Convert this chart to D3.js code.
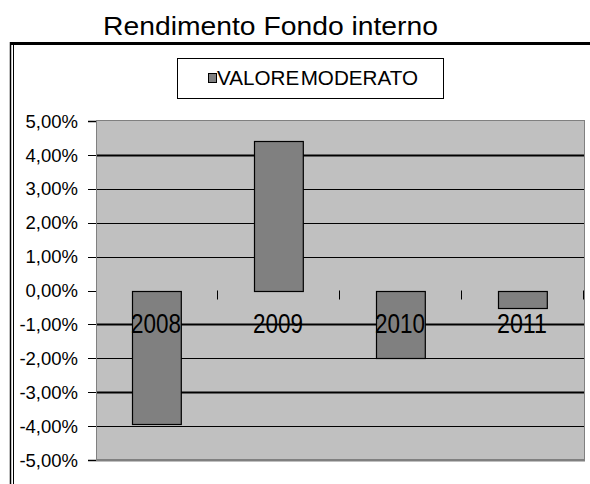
<!DOCTYPE html>
<html>
<head>
<meta charset="utf-8">
<script src="https://cdn.jsdelivr.net/npm/d3@7"></script>
<style>
  html, body { margin: 0; padding: 0; background: #fff; }
  svg { display: block; font-family: "Liberation Sans", Arial, sans-serif; }
</style>
</head>
<body>
<svg id="chart" width="590" height="484"></svg>
<script>
"use strict";

// Data.
const years = ["2008", "2009", "2010", "2011"];
const valoreModerato = [-3.95, 4.4, -1.98, -0.53];
const yTicks = [5, 4, 3, 2, 1, 0, -1, -2, -3, -4, -5];
const chartTitle = "Rendimento Fondo interno";
const seriesName = "VALORE MODERATO";

const svg = d3.select("#chart");
const plot = { left: 96, right: 585, top: 121, bottom: 460 };

const x = d3.scaleBand()
    .domain(years)
    .range([plot.left, plot.right - 1])
    .paddingInner(0.6)
    .paddingOuter(0.3);
const xBand = d3.scaleBand().domain(years).range([plot.left, plot.right - 1]);

const y = d3.scaleLinear().domain([-5, 5]).range([plot.bottom, plot.top]);

const fmt = (v) => d3.format(".2f")(v).replace(".", ",").replace("\u2212", "-") + "%";

// Frame around the chart.
svg.append("line")
    .attr("x1", 10).attr("x2", 590).attr("y1", 43.5).attr("y2", 43.5)
    .attr("stroke", "#000").attr("stroke-width", 3);
svg.append("line")
    .attr("x1", 10.5).attr("x2", 10.5).attr("y1", 42).attr("y2", 484)
    .attr("stroke", "#000").attr("stroke-width", 1.5);
svg.append("line")
    .attr("x1", 13.5).attr("x2", 13.5).attr("y1", 45).attr("y2", 484)
    .attr("stroke", "#000").attr("stroke-width", 1);

// Title.
svg.append("text")
    .attr("x", 103).attr("y", 35)
    .attr("font-size", 26)
    .attr("textLength", 335).attr("lengthAdjust", "spacingAndGlyphs")
    .text(chartTitle);

// Plot area.
svg.append("rect")
    .attr("x", plot.left + 0.5).attr("y", plot.top - 0.5)
    .attr("width", plot.right - plot.left - 1).attr("height", plot.bottom - plot.top)
    .attr("fill", "#c0c0c0")
    .attr("stroke", "#808080").attr("stroke-width", 1);
svg.append("line")
    .attr("x1", plot.left).attr("x2", plot.right).attr("y1", plot.bottom + 0.5).attr("y2", plot.bottom + 0.5)
    .attr("stroke", "#808080").attr("stroke-width", 2);

// Gridlines.
svg.append("g").selectAll("line")
    .data(yTicks.filter((d) => d !== 5 && d !== 0 && d !== -5))
    .enter().append("line")
    .attr("x1", plot.left + 1).attr("x2", plot.right - 1)
    .attr("y1", (d) => Math.round(y(d)) + 0.5)
    .attr("y2", (d) => Math.round(y(d)) + 0.5)
    .attr("stroke", "#000")
    .attr("stroke-width", (d) => (d === 4 || d === -1 || d === -3) ? 2 : 1);

// Y axis ticks and labels.
const yAxis = svg.append("g");
yAxis.selectAll("line")
    .data(yTicks)
    .enter().append("line")
    .attr("x1", 88).attr("x2", plot.left)
    .attr("y1", (d) => Math.round(y(d)) + 0.5)
    .attr("y2", (d) => Math.round(y(d)) + 0.5)
    .attr("stroke", "#000")
    .attr("stroke-width", (d) => (d === 5 || d === -5) ? 1.5 : 1);
yAxis.selectAll("text")
    .data(yTicks)
    .enter().append("text")
    .attr("x", 78)
    .attr("y", (d) => y(d))
    .attr("dy", "0.36em")
    .attr("text-anchor", "end")
    .attr("font-size", 18.5)
    .text(fmt);

// Bars.
svg.append("g").selectAll("rect")
    .data(valoreModerato)
    .enter().append("rect")
    .attr("x", (d, i) => Math.round(x(years[i])) - 0.5)
    .attr("y", (d) => Math.round(y(Math.max(0, d))) + 0.5)
    .attr("width", x.bandwidth())
    .attr("height", (d) => Math.abs(Math.round(y(d)) - Math.round(y(0))))
    .attr("fill", "#808080")
    .attr("stroke", "#000")
    .attr("stroke-width", 1.2);

// Category tick marks below zero.
svg.append("g").selectAll("line")
    .data(years)
    .enter().append("line")
    .attr("x1", (d) => Math.round(xBand(d) + xBand.bandwidth()) - 0.5)
    .attr("x2", (d) => Math.round(xBand(d) + xBand.bandwidth()) - 0.5)
    .attr("y1", y(0)).attr("y2", y(0) + 9)
    .attr("stroke", "#000").attr("stroke-width", 1);

// Category labels.
svg.append("g").selectAll("text")
    .data(years)
    .enter().append("text")
    .attr("x", (d) => xBand(d) + xBand.bandwidth() / 2 - 26)
    .attr("y", 333)
    .attr("font-size", 27)
    .attr("textLength", 50).attr("lengthAdjust", "spacingAndGlyphs")
    .text((d) => d);

// Legend.
const legend = svg.append("g");
legend.append("rect")
    .attr("x", 177.5).attr("y", 58.5).attr("width", 266).attr("height", 40)
    .attr("fill", "#fff").attr("stroke", "#000").attr("stroke-width", 1);
legend.append("rect")
    .attr("x", 208.5).attr("y", 73.5).attr("width", 8).attr("height", 9)
    .attr("fill", "#808080").attr("stroke", "#000").attr("stroke-width", 1);
legend.append("text")
    .attr("x", 217).attr("y", 85)
    .attr("font-size", 19.5)
    .attr("word-spacing", -4)
    .attr("textLength", 201).attr("lengthAdjust", "spacingAndGlyphs")
    .text(seriesName);
</script>
</body>
</html>
